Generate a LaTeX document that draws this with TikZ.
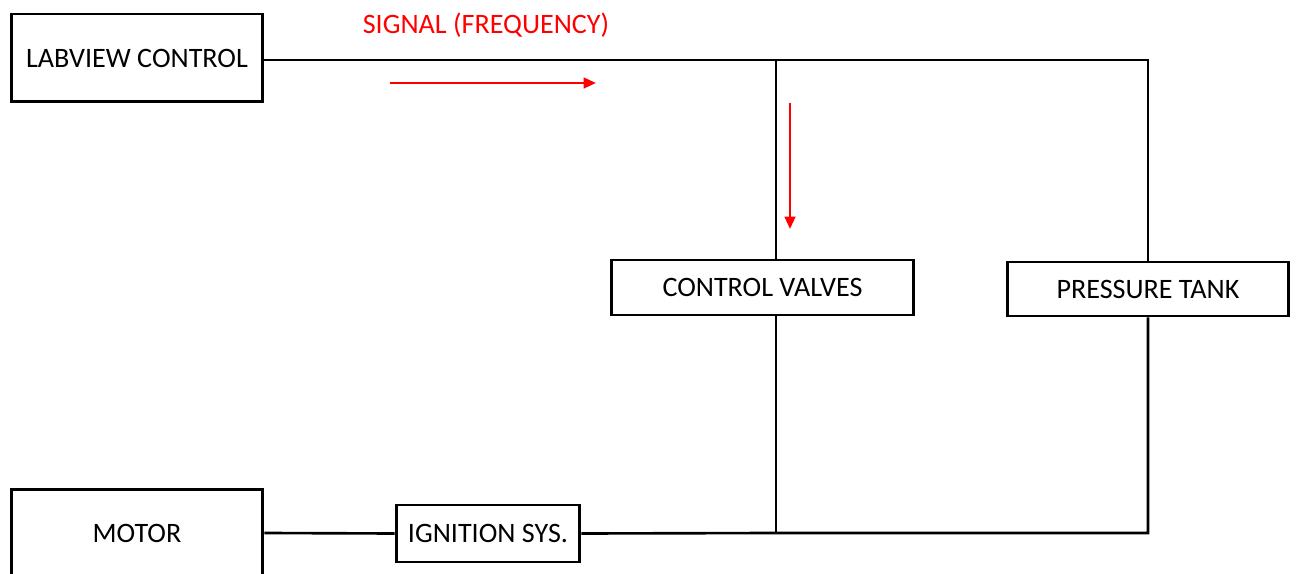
\documentclass[tikz,border=0pt]{standalone}
\usepackage{fontspec}
\setmainfont{Carlito}
\usetikzlibrary{arrows.meta}

\tikzset{
  block/.style={draw, line width=1.7pt, fill=white, inner sep=0pt, font=\fontsize{16}{19}\selectfont},
  wire/.style={line width=1.5pt},
  sig/.style={red, line width=1.4pt, -{Triangle[length=7pt,width=6pt]}}
}

\begin{document}
\begin{tikzpicture}[x=0.02cm, y=-0.02cm]
\clip (0,0) rectangle (1296,574);
\fill[white] (0,0) rectangle (1296,574);

% blocks
\node[block, minimum width=5.04cm, minimum height=1.76cm] (labview) at (137,58) {\raisebox{-2pt}{LABVIEW CONTROL}};
\node[block, minimum width=6.06cm, minimum height=1.10cm] (valves) at (762.5,287.5) {CONTROL VALVES};
\node[block, minimum width=5.64cm, minimum height=1.08cm] (tank) at (1148,289) {PRESSURE TANK};
\node[block, minimum width=5.04cm, minimum height=1.76cm] (motor) at (137,533) {\raisebox{-2pt}{MOTOR}};
\node[block, minimum width=3.68cm, minimum height=1.14cm] (ignition) at (488,533.5) {IGNITION SYS.};

% junctions
\coordinate (jtop) at (776,60);
\coordinate (ptop) at (1148,60);
\coordinate (jbot) at (776,533);
\coordinate (pbot) at (1148,533);

% wiring
\draw[wire] (labview.east |- jtop) -- (jtop) -- (ptop) -- (tank.north);
\draw[wire] (jtop) -- (jtop |- valves.north);
\draw[wire] (jtop |- valves.south) -- (jbot);
\draw[wire] (motor.east) -- (ignition.west);
\draw[wire] (ignition.east) -- (jbot) -- (pbot) -- (tank.south);

% signal
\node[red, font=\fontsize{16}{19}\selectfont] (signal) at (486,25) {SIGNAL (FREQUENCY)};
\coordinate (sh1) at (390,83);
\coordinate (sh2) at (596,83);
\coordinate (sv1) at (790,103);
\coordinate (sv2) at (790,229);
\draw[sig] (sh1) -- (sh2);
\draw[sig] (sv1) -- (sv2);

\end{tikzpicture}
\end{document}
